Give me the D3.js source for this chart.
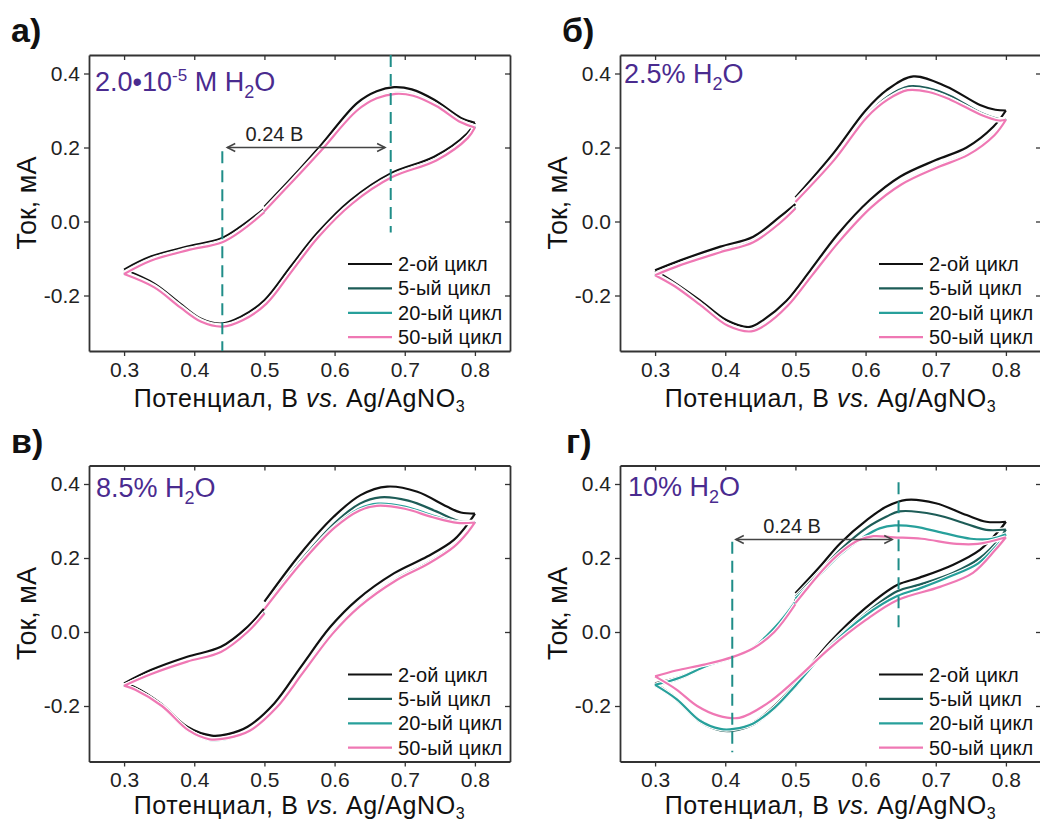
<!DOCTYPE html>
<html><head><meta charset="utf-8">
<script src="https://cdn.jsdelivr.net/npm/d3@7"></script>
<style>
html,body{margin:0;padding:0;background:#fff;}
svg text{font-family:"Liberation Sans",Arial,sans-serif;}
</style></head>
<body>
<svg id="chart" width="1040" height="825"></svg>
<script>
// ---------- data ----------
const seriesNames = ["2-ой цикл","5-ый цикл","20-ый цикл","50-ый цикл"];
const seriesColors = ["#111111","#1d5c57","#27a09b","#ef78b4"];
const xTickValues = [0.3,0.4,0.5,0.6,0.7,0.8];
const yTickValues = [-0.2,0.0,0.2,0.4];
const panelLetters = ["а)","б)","в)","г)"];

// Panel а: 2.0e-5 M H2O  (scan: 0.5 -> 0.8 -> 0.3 -> 0.5)
const a_c2 = [[0.5,0.04],[0.54,0.12],[0.58,0.205],[0.632,0.32],[0.66,0.352],[0.685,0.363],[0.71,0.357],[0.742,0.329],[0.78,0.28],[0.8,0.267],
  [0.789,0.238],[0.742,0.175],[0.68,0.13],[0.623,0.058],[0.575,-0.032],[0.537,-0.123],[0.5,-0.213],[0.466,-0.258],[0.438,-0.276],[0.409,-0.262],[0.38,-0.222],[0.343,-0.168],[0.3,-0.13],
  [0.338,-0.095],[0.39,-0.068],[0.438,-0.046],[0.466,-0.014],[0.5,0.035]];
const a_c5 = [[0.5,0.031],[0.54,0.111],[0.58,0.193],[0.632,0.303],[0.66,0.336],[0.687,0.348],[0.712,0.343],[0.745,0.315],[0.78,0.271],[0.8,0.257],
  [0.79,0.229],[0.745,0.168],[0.682,0.123],[0.625,0.051],[0.577,-0.039],[0.54,-0.129],[0.503,-0.219],[0.469,-0.264],[0.44,-0.281],[0.41,-0.268],[0.38,-0.229],[0.343,-0.175],[0.3,-0.139],
  [0.338,-0.103],[0.39,-0.075],[0.44,-0.053],[0.468,-0.021],[0.5,0.028]];
const a_c20 = [[0.5,0.029],[0.54,0.109],[0.58,0.191],[0.632,0.301],[0.66,0.334],[0.687,0.346],[0.712,0.341],[0.745,0.313],[0.78,0.269],[0.8,0.255],
  [0.79,0.227],[0.745,0.166],[0.682,0.121],[0.625,0.049],[0.577,-0.041],[0.54,-0.131],[0.503,-0.221],[0.469,-0.266],[0.44,-0.283],[0.41,-0.27],[0.38,-0.231],[0.343,-0.177],[0.3,-0.141],
  [0.338,-0.105],[0.39,-0.077],[0.44,-0.055],[0.468,-0.023],[0.5,0.026]];
const a_c50 = [[0.5,0.028],[0.54,0.108],[0.58,0.19],[0.632,0.3],[0.66,0.333],[0.687,0.345],[0.712,0.34],[0.745,0.312],[0.78,0.268],[0.8,0.254],
  [0.79,0.226],[0.745,0.165],[0.682,0.12],[0.625,0.048],[0.577,-0.042],[0.54,-0.132],[0.503,-0.222],[0.469,-0.267],[0.44,-0.284],[0.41,-0.271],[0.38,-0.232],[0.343,-0.178],[0.3,-0.142],
  [0.338,-0.106],[0.39,-0.078],[0.44,-0.056],[0.468,-0.024],[0.5,0.025]];

// Panel б: 2.5% H2O
const b_c2 = [[0.5,0.065],[0.554,0.184],[0.6,0.3],[0.63,0.355],[0.668,0.392],[0.715,0.365],[0.763,0.315],[0.785,0.302],[0.8,0.3],
  [0.782,0.256],[0.744,0.2],[0.7,0.166],[0.649,0.121],[0.606,0.058],[0.56,-0.035],[0.522,-0.13],[0.487,-0.215],[0.455,-0.265],[0.435,-0.285],[0.402,-0.267],[0.364,-0.213],[0.326,-0.163],[0.3,-0.132],
  [0.336,-0.105],[0.393,-0.068],[0.44,-0.041],[0.478,0.013],[0.5,0.047]];
const b_c5 = [[0.5,0.056],[0.556,0.172],[0.602,0.287],[0.632,0.338],[0.662,0.365],[0.69,0.36],[0.72,0.34],[0.765,0.293],[0.79,0.277],[0.8,0.276],
  [0.784,0.238],[0.746,0.183],[0.702,0.149],[0.651,0.103],[0.608,0.041],[0.562,-0.052],[0.524,-0.142],[0.489,-0.225],[0.457,-0.277],[0.437,-0.294],[0.404,-0.279],[0.366,-0.225],[0.328,-0.172],[0.3,-0.142],
  [0.336,-0.115],[0.393,-0.08],[0.44,-0.053],[0.478,-0.001],[0.5,0.038]];
const b_c20 = [[0.5,0.054],[0.556,0.17],[0.602,0.284],[0.632,0.332],[0.66,0.357],[0.69,0.352],[0.72,0.332],[0.765,0.289],[0.79,0.274],[0.8,0.276],
  [0.784,0.235],[0.746,0.181],[0.702,0.147],[0.651,0.101],[0.608,0.039],[0.562,-0.054],[0.524,-0.144],[0.489,-0.227],[0.457,-0.279],[0.437,-0.296],[0.404,-0.281],[0.366,-0.227],[0.328,-0.174],[0.3,-0.144],
  [0.336,-0.117],[0.393,-0.082],[0.44,-0.055],[0.478,-0.003],[0.5,0.036]];
const b_c50 = [[0.5,0.053],[0.556,0.168],[0.602,0.282],[0.632,0.33],[0.66,0.355],[0.69,0.35],[0.72,0.33],[0.765,0.288],[0.79,0.273],[0.8,0.275],
  [0.784,0.234],[0.746,0.18],[0.702,0.146],[0.651,0.1],[0.608,0.038],[0.562,-0.055],[0.524,-0.145],[0.489,-0.228],[0.457,-0.28],[0.437,-0.297],[0.404,-0.282],[0.366,-0.228],[0.328,-0.175],[0.3,-0.145],
  [0.336,-0.118],[0.393,-0.083],[0.44,-0.056],[0.478,-0.004],[0.5,0.035]];

// Panel в: 8.5% H2O
const c_c2 = [[0.5,0.082],[0.552,0.213],[0.599,0.312],[0.637,0.37],[0.675,0.393],[0.718,0.379],[0.76,0.339],[0.78,0.323],[0.8,0.32],
  [0.794,0.303],[0.77,0.249],[0.732,0.204],[0.685,0.159],[0.632,0.087],[0.594,0.014],[0.552,-0.094],[0.514,-0.193],[0.476,-0.256],[0.448,-0.276],[0.425,-0.28],[0.39,-0.256],[0.352,-0.193],[0.314,-0.148],[0.3,-0.139],
  [0.338,-0.103],[0.39,-0.067],[0.438,-0.04],[0.476,0.014],[0.5,0.064]];
const c_c5 = [[0.5,0.066],[0.554,0.198],[0.6,0.294],[0.636,0.347],[0.665,0.364],[0.705,0.355],[0.745,0.326],[0.777,0.3],[0.8,0.298],
  [0.79,0.273],[0.77,0.233],[0.734,0.188],[0.688,0.143],[0.635,0.071],[0.597,-0.002],[0.555,-0.107],[0.517,-0.203],[0.479,-0.266],[0.448,-0.287],[0.424,-0.291],[0.392,-0.267],[0.354,-0.201],[0.316,-0.157],[0.3,-0.146],
  [0.338,-0.113],[0.39,-0.079],[0.438,-0.053],[0.476,0.001],[0.5,0.052]];
const c_c20 = [[0.5,0.063],[0.554,0.192],[0.6,0.285],[0.635,0.333],[0.662,0.347],[0.7,0.339],[0.74,0.315],[0.775,0.297],[0.8,0.297],
  [0.79,0.27],[0.77,0.229],[0.734,0.184],[0.688,0.139],[0.635,0.067],[0.597,-0.006],[0.555,-0.111],[0.517,-0.206],[0.479,-0.268],[0.448,-0.288],[0.423,-0.292],[0.392,-0.268],[0.354,-0.202],[0.316,-0.157],[0.3,-0.146],
  [0.338,-0.115],[0.39,-0.081],[0.438,-0.055],[0.476,-0.001],[0.5,0.049]];
const c_c50 = [[0.5,0.062],[0.554,0.19],[0.6,0.282],[0.635,0.328],[0.66,0.341],[0.7,0.333],[0.74,0.31],[0.775,0.295],[0.8,0.296],
  [0.79,0.27],[0.77,0.23],[0.734,0.185],[0.688,0.14],[0.635,0.068],[0.597,-0.005],[0.555,-0.11],[0.517,-0.205],[0.479,-0.267],[0.447,-0.287],[0.422,-0.29],[0.392,-0.266],[0.354,-0.2],[0.316,-0.156],[0.3,-0.145],
  [0.338,-0.114],[0.39,-0.08],[0.438,-0.054],[0.476,0.0],[0.5,0.05]];

// Panel г: 10% H2O
const d_c2 = [[0.5,0.105],[0.535,0.177],[0.564,0.24],[0.602,0.303],[0.63,0.339],[0.658,0.357],[0.7,0.348],[0.744,0.316],[0.772,0.298],[0.8,0.298],
  [0.791,0.276],[0.763,0.222],[0.725,0.182],[0.677,0.147],[0.645,0.127],[0.6,0.065],[0.55,-0.026],[0.5,-0.14],[0.47,-0.2],[0.44,-0.245],[0.41,-0.263],[0.393,-0.262],[0.364,-0.238],[0.331,-0.18],[0.3,-0.139],
  [0.336,-0.121],[0.374,-0.089],[0.412,-0.067],[0.44,-0.04],[0.478,0.032],[0.5,0.087]];
const d_c5 = [[0.5,0.095],[0.535,0.163],[0.564,0.222],[0.602,0.282],[0.63,0.312],[0.648,0.326],[0.7,0.317],[0.744,0.292],[0.772,0.276],[0.8,0.277],
  [0.79,0.25],[0.763,0.2],[0.725,0.16],[0.677,0.128],[0.645,0.11],[0.6,0.05],[0.55,-0.035],[0.5,-0.148],[0.47,-0.207],[0.44,-0.25],[0.41,-0.267],[0.393,-0.266],[0.364,-0.243],[0.331,-0.184],[0.3,-0.145],
  [0.336,-0.125],[0.374,-0.092],[0.412,-0.068],[0.44,-0.041],[0.478,0.03],[0.5,0.085]];
const d_c20 = [[0.5,0.09],[0.535,0.155],[0.564,0.21],[0.6,0.26],[0.62,0.28],[0.642,0.288],[0.67,0.285],[0.71,0.268],[0.75,0.252],[0.78,0.252],[0.8,0.264],
  [0.79,0.24],[0.76,0.185],[0.72,0.15],[0.68,0.12],[0.645,0.097],[0.6,0.045],[0.55,-0.038],[0.5,-0.145],[0.47,-0.205],[0.44,-0.247],[0.412,-0.262],[0.393,-0.262],[0.364,-0.24],[0.331,-0.182],[0.3,-0.143],
  [0.336,-0.123],[0.374,-0.091],[0.412,-0.068],[0.44,-0.042],[0.478,0.028],[0.5,0.082]];
const d_c50 = [[0.5,0.078],[0.545,0.18],[0.573,0.228],[0.59,0.248],[0.611,0.259],[0.64,0.256],[0.68,0.252],[0.73,0.238],[0.76,0.238],[0.8,0.256],
  [0.785,0.222],[0.753,0.16],[0.706,0.122],[0.645,0.086],[0.6,0.032],[0.55,-0.042],[0.5,-0.13],[0.46,-0.193],[0.42,-0.232],[0.39,-0.226],[0.36,-0.2],[0.33,-0.155],[0.3,-0.12],
  [0.33,-0.104],[0.37,-0.088],[0.41,-0.068],[0.44,-0.044],[0.47,0.0],[0.5,0.075]];

// peak separation markers (V), arrow (V from, V to, current level), label start (V)
const markA = [0.44, 0.68];
const arrowA = [0.447, 0.672, 0.2];
const labelA = 0.473;
const markD = [0.41, 0.647];
const arrowD = [0.415, 0.638, 0.25];
const labelD = 0.454;
const sepLabel = "0.24 В";

// ---------- drawing ----------
const svg = d3.select("#chart");
const W = 421, H = 296;
const x = d3.scaleLinear().domain([0.25,0.85]).range([0,W]);
const y = d3.scaleLinear().domain([-0.35,0.45]).range([H,0]);
const xMinor = d3.range(0.25,0.851,0.05).map(v=>+v.toFixed(2));
const yMinor = d3.range(-0.3,0.451,0.1).map(v=>+v.toFixed(2));
const fmt = d => d.toFixed(1);
const purple = "#4a2b8f", dashCol = "#1f8d88", axisCol = "#333";

const panels = [
  {left:89, top:55, data:[a_c2,a_c5,a_c20,a_c50], letter:panelLetters[0], lx:11, ly:42, mark:markA, arrow:arrowA, label:labelA, ann:"a", tx:6, ty:36,
   lowSpan:[0.19,-0.35], upSpan:[0.45,-0.03], xtOff:56},
  {left:620, top:55, data:[b_c2,b_c5,b_c20,b_c50], letter:panelLetters[1], lx:562, ly:42, ann:"b", tx:4, ty:28, xtOff:56},
  {left:89, top:465.5, data:[c_c2,c_c5,c_c20,c_c50], letter:panelLetters[2], lx:11, ly:453, ann:"c", tx:7, ty:31.5, xtOff:52},
  {left:620, top:465.5, data:[d_c2,d_c5,d_c20,d_c50], letter:panelLetters[3], lx:566, ly:453, mark:markD, arrow:arrowD, label:labelD, ann:"d", tx:8, ty:30.5,
   lowSpan:[0.244,-0.325], upSpan:[0.405,0.0], xtOff:52}
];

function splitMonotone(pts){
  const segs=[]; let seg=[pts[0]]; let dir=0;
  for(let i=1;i<pts.length;i++){
    const d=Math.sign(pts[i][0]-pts[i-1][0]);
    if(dir!==0 && d!==0 && d!==dir){ segs.push(seg); seg=[pts[i-1]]; }
    if(d!==0) dir=d;
    seg.push(pts[i]);
  }
  segs.push(seg); return segs;
}
const line = d3.line().x(d=>x(d[0])).y(d=>y(d[1])).curve(d3.curveCatmullRom.alpha(0.5));

panels.forEach((p,pi)=>{
  svg.append("text").attr("x",p.lx).attr("y",p.ly).attr("font-size",34).attr("font-weight","bold").attr("fill","#111").text(p.letter);
  const g = svg.append("g").attr("transform",`translate(${p.left},${p.top})`);

  // axes
  const axB = g.append("g").attr("transform",`translate(0,${H})`);
  axB.call(d3.axisBottom(x).tickValues(xMinor).tickSize(3).tickSizeOuter(0).tickFormat(""));
  axB.call(d3.axisBottom(x).tickValues(xTickValues).tickSize(5).tickSizeOuter(0).tickFormat(fmt).tickPadding(6));
  const axT = g.append("g");
  axT.call(d3.axisTop(x).tickValues(xMinor).tickSize(-3).tickSizeOuter(0).tickFormat(""));
  axT.call(d3.axisTop(x).tickValues(xTickValues).tickSize(-5).tickSizeOuter(0).tickFormat(""));
  const axL = g.append("g");
  axL.call(d3.axisLeft(y).tickValues(yMinor).tickSize(3).tickSizeOuter(0).tickFormat(""));
  axL.call(d3.axisLeft(y).tickValues(yTickValues).tickSize(5).tickSizeOuter(0).tickFormat(fmt).tickPadding(4));
  const axR = g.append("g").attr("transform",`translate(${W},0)`);
  axR.call(d3.axisRight(y).tickValues(yMinor).tickSize(-3).tickSizeOuter(0).tickFormat(""));
  axR.call(d3.axisRight(y).tickValues(yTickValues).tickSize(-5).tickSizeOuter(0).tickFormat(""));
  g.selectAll(".domain").attr("stroke",axisCol).attr("stroke-width",1.8);
  g.selectAll(".tick line").attr("stroke",axisCol).attr("stroke-width",1.3);
  g.selectAll(".tick text").attr("font-size",21).attr("fill","#222").attr("font-family","Liberation Sans, Arial, sans-serif");

  // axis titles
  const xt = g.append("text").attr("x",W/2).attr("y",H+p.xtOff).attr("text-anchor","middle").attr("font-size",25).attr("letter-spacing",0.6).attr("fill","#111");
  xt.append("tspan").text("Потенциал, В ");
  xt.append("tspan").attr("font-style","italic").text("vs.");
  xt.append("tspan").text(" Ag/AgNO");
  xt.append("tspan").attr("font-size",16).attr("dy",5).text("3");
  g.append("text").attr("transform",`translate(-53,${H/2}) rotate(-90)`).attr("text-anchor","middle").attr("font-size",27).attr("fill","#111").text("Ток, мА");

  // curves with white halo
  p.data.forEach((s,si)=>{
    const segs = splitMonotone(s);
    const dstr = segs.map(sg=>line(sg)).join("");
    g.append("path").attr("d",dstr).attr("fill","none").attr("stroke","#fff").attr("stroke-width",4.4).attr("stroke-linejoin","round");
    g.append("path").attr("d",dstr).attr("fill","none").attr("stroke",seriesColors[si]).attr("stroke-width",2.2).attr("stroke-linejoin","round").attr("stroke-linecap","butt");
  });

  // dashed markers and arrow
  if(p.mark){
    g.append("line").attr("x1",x(p.mark[0])).attr("x2",x(p.mark[0])).attr("y1",y(p.lowSpan[0])).attr("y2",y(p.lowSpan[1]))
      .attr("stroke",dashCol).attr("stroke-width",2).attr("stroke-dasharray","12,7");
    g.append("line").attr("x1",x(p.mark[1])).attr("x2",x(p.mark[1])).attr("y1",y(p.upSpan[0])).attr("y2",y(p.upSpan[1]))
      .attr("stroke",dashCol).attr("stroke-width",2).attr("stroke-dasharray","12,7");
    const ax0=x(p.arrow[0]), ax1=x(p.arrow[1]), ay=y(p.arrow[2]);
    g.append("line").attr("x1",ax0).attr("x2",ax1).attr("y1",ay).attr("y2",ay).attr("stroke","#444").attr("stroke-width",1.5);
    g.append("path").attr("d",`M${ax0+8},${ay-4}L${ax0},${ay}L${ax0+8},${ay+4}`).attr("fill","none").attr("stroke","#444").attr("stroke-width",1.5);
    g.append("path").attr("d",`M${ax1-8},${ay-4}L${ax1},${ay}L${ax1-8},${ay+4}`).attr("fill","none").attr("stroke","#444").attr("stroke-width",1.5);
    g.append("text").attr("x",x(p.label)).attr("y",ay-6.5).attr("font-size",20).attr("fill","#222").text(sepLabel);
  }

  // annotation text
  const at = g.append("text").attr("x",p.tx).attr("y",p.ty).attr("font-size",27).attr("fill",purple);
  if(p.ann==="a"){
    at.append("tspan").text("2.0•10");
    at.append("tspan").attr("font-size",17).attr("dy",-10).text("-5");
    at.append("tspan").attr("dy",10).text(" M H");
  } else if(p.ann==="b"){ at.append("tspan").text("2.5% H"); }
  else if(p.ann==="c"){ at.append("tspan").text("8.5% H"); }
  else { at.append("tspan").text("10% H"); }
  at.append("tspan").attr("font-size",18).attr("dy",7).text("2");
  at.append("tspan").attr("dy",-7).text("O");

  // legend
  seriesNames.forEach((nm,si)=>{
    const ly = 209 + si*24.4;
    g.append("line").attr("x1",259).attr("x2",303).attr("y1",ly).attr("y2",ly).attr("stroke",seriesColors[si]).attr("stroke-width",2.2);
    g.append("text").attr("x",309).attr("y",ly+7).attr("font-size",20).attr("letter-spacing",0.1).attr("fill","#111").text(nm);
  });
});
</script>
</body></html>
